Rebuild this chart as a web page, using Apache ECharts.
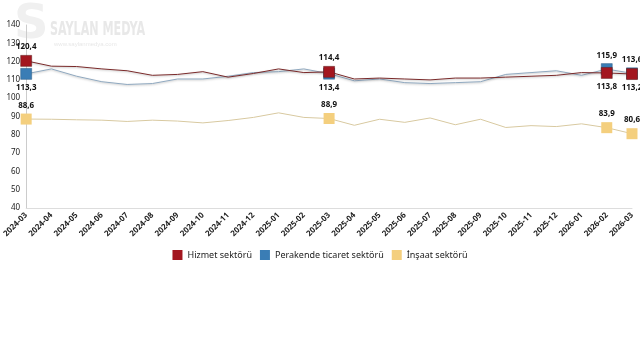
<!DOCTYPE html>
<html><head><meta charset="utf-8">
<script src="https://cdn.jsdelivr.net/npm/echarts@6/dist/echarts.min.js"></script>
<style>html,body{margin:0;padding:0;background:#fff}#c{width:640px;height:360px}</style>
</head><body><div id="c"></div>
<script>
const categories = ['2024-03','2024-04','2024-05','2024-06','2024-07','2024-08','2024-09','2024-10','2024-11','2024-12','2025-01','2025-02','2025-03','2025-04','2025-05','2025-06','2025-07','2025-08','2025-09','2025-10','2025-11','2025-12','2026-01','2026-02','2026-03'];
const hizmet = [120.4,117.5,117.3,116,115,112.5,113,114.5,111.5,113.5,116,114,114.4,110.5,111,110.5,110,111,111,111.5,112,112.5,114,113.8,113.2];
const perakende = [113.3,116,112,109,107.5,108,110.5,110.5,112,114,114.5,116,113.4,109.5,110.5,108.5,108,108.5,109,113,114,115,112.5,115.9,113.6];
const insaat = [88.6,88.5,88.2,88,87.3,88,87.5,86.5,87.8,89.5,92,89.5,88.9,85.2,88.5,86.8,89.2,85.5,88.5,84,85,84.5,86,83.9,80.6];
const yTicks = [40,50,60,70,80,90,100,110,120,130,140];
const markIdx = [0,12,23,24];

const fmt = v => String(v.toFixed(1)).replace('.', ',');
function build(vals, posFn) {
  return vals.map((v,i) => {
    if (markIdx.indexOf(i) < 0) return {value:v, symbolSize:0};
    return {value:v, symbolSize:11, label:{show:true, position:posFn(i)}};
  });
}
const chart = echarts.init(document.getElementById('c'));
const lbl = {show:false, formatter:p=>fmt(p.value), fontSize:8, fontWeight:'bold', color:'#111', fontFamily:'Noto Sans', distance:4};
chart.setOption({
  animation:false,
  textStyle:{fontFamily:'Noto Sans'},
  graphic:[
    {type:'text', left:14, top:2, z:-1, style:{text:'S', fontSize:48, fontWeight:'bold', fill:'#f0f0f0', fontFamily:'DejaVu Sans'}},
    {type:'text', x:50, y:20, scaleX:0.62, z:-1, style:{text:'SAYLAN MEDYA', fontSize:20, fontWeight:'bold', fill:'#e8e8e8', fontFamily:'DejaVu Sans Condensed'}},
    {type:'text', left:54, top:41, z:-1, style:{text:'www.saylanmedya.com', fontSize:6, fill:'#e8e8e8'}}
  ],
  legend:{top:245, left:'center', itemWidth:10, itemHeight:10, itemGap:8, icon:'rect',
    itemStyle:{borderWidth:0},
    textStyle:{fontSize:9, color:'#222'}},
  grid:{left:25, right:8, top:25, bottom:152},
  xAxis:{type:'category', data:categories, boundaryGap:false,
    axisLine:{lineStyle:{color:'#ddd'}}, axisTick:{show:false},
    axisLabel:{rotate:45, fontSize:8, color:'#222', fontWeight:'bold', interval:0, margin:6}},
  yAxis:{type:'value', min:40, max:140, interval:10,
    axisLine:{show:true, lineStyle:{color:'#ccc'}}, axisTick:{show:false}, splitLine:{show:false},
    axisLabel:{fontSize:8, color:'#222', margin:6, formatter:v=>yTicks.includes(v)?String(v):''}},
  series:[
    {name:'Hizmet sektörü', type:'line', symbol:'rect', color:'#a3161f',
     lineStyle:{width:1, color:'#7a2a2a', shadowColor:'rgba(0,0,0,0.25)', shadowBlur:2, shadowOffsetY:1},
     itemStyle:{color:'#a3161f', borderColor:'#5a1a1a', borderWidth:0.5},
     label:lbl, data:build(hizmet, i=> i===23||i===24 ? 'bottom':'top'), z:3},
    {name:'Perakende ticaret sektörü', type:'line', symbol:'rect', color:'#3a7db5',
     lineStyle:{width:1, color:'#8fa8bf', shadowColor:'rgba(0,0,0,0.25)', shadowBlur:2, shadowOffsetY:1},
     itemStyle:{color:'#3a7db5', borderColor:'#2a5a80', borderWidth:0.5},
     label:lbl, data:build(perakende, i=> i===23||i===24 ? 'top':'bottom'), z:2},
    {name:'İnşaat sektörü', type:'line', symbol:'rect', color:'#f4cf7e',
     lineStyle:{width:1, color:'#d8c9a0'},
     itemStyle:{color:'#f4cf7e'},
     label:lbl, data:build(insaat, i=>'top'), z:1}
  ]
});
</script></body></html>
